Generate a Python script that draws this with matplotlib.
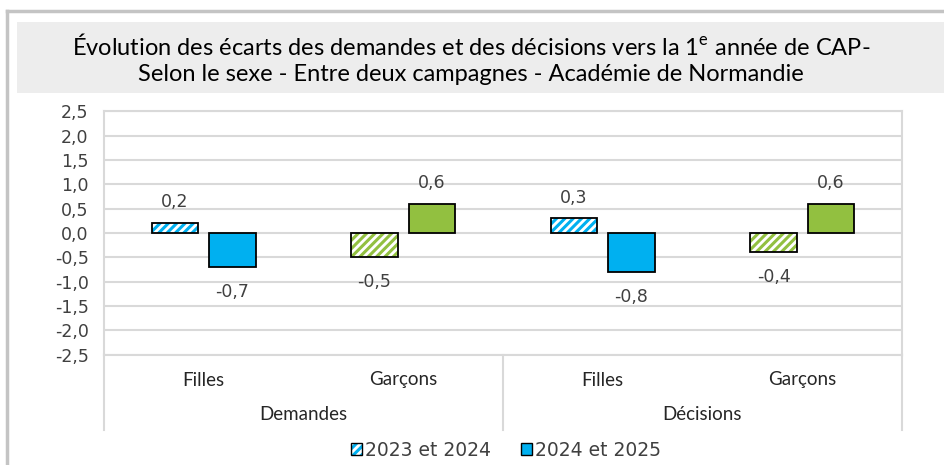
import matplotlib
matplotlib.use("Agg")
import matplotlib.pyplot as plt
from matplotlib.patches import Rectangle, Patch
from matplotlib.lines import Line2D
from matplotlib.legend_handler import HandlerTuple
import numpy as np

# data
groups = ["Demandes", "Décisions"]
sexes = ["Filles", "Garçons", "Filles", "Garçons"]
ecart_2023_2024 = [0.2, -0.5, 0.3, -0.4]
ecart_2024_2025 = [-0.7, 0.6, -0.8, 0.6]
series_names = ["2023 et 2024", "2024 et 2025"]
yticks = np.arange(-2.5, 2.51, 0.5)

BLUE = "#00b0f0"
GREEN = "#92c040"
GRID = "#d9d9d9"

plt.rcParams["hatch.linewidth"] = 2.2
plt.rcParams["mathtext.fontset"] = "custom"
plt.rcParams["mathtext.rm"] = "Lato"

W, H = 944, 465
fig = plt.figure(figsize=(W / 100, H / 100), dpi=100)

# outer frame + title box
fig.add_artist(Line2D([7 / W, 7 / W], [0, 1 - 11 / H], color="#c4c4c4", lw=2.5))
fig.add_artist(Line2D([7 / W, 1], [1 - 11 / H, 1 - 11 / H], color="#c4c4c4", lw=2.5))
fig.add_artist(Rectangle((17 / W, 1 - 93 / H), 1, 71 / H, color="#ededed", lw=0))
fig.text(471 / W, 1 - 59 / H,
         "Évolution des écarts des demandes et des décisions vers la 1$^{\\mathrm{e}}$ année de CAP-\n"
         "Selon le sexe - Entre deux campagnes - Académie de Normandie",
         ha="center", va="center", fontsize=17, family="Lato", linespacing=1.25)

left, right, top, bottom = 104, 902, 111.5, 354.5
ax = fig.add_axes([left / W, 1 - bottom / H, (right - left) / W, (bottom - top) / H])

x = np.arange(len(sexes))
bw = 0.233
off = 0.144
colors = [BLUE, GREEN, BLUE, GREEN]

for xi, v, c in zip(x, ecart_2023_2024, colors):
    ax.bar(xi - off, v, bw, facecolor="white", edgecolor=c, hatch="////", lw=0, zorder=2)
    ax.bar(xi - off, v, bw, facecolor="none", edgecolor="black", lw=1.3, zorder=3)
for xi, v, c in zip(x, ecart_2024_2025, colors):
    ax.bar(xi + off, v, bw, facecolor=c, edgecolor="black", lw=1.3, zorder=3)

for xs, vals in ((x - off, ecart_2023_2024), (x + off, ecart_2024_2025)):
    for xi, v in zip(xs, vals):
        ax.annotate(f"{v:.1f}".replace(".", ","), (xi, v),
                    xytext=(0, 15 if v > 0 else -18), textcoords="offset points",
                    ha="center", va="center", fontsize=12.5, color="#404040")

ax.set_xlim(-0.5, len(sexes) - 0.5)
ax.set_ylim(-2.5, 2.5)
ax.set_yticks(yticks)
ax.set_yticklabels([f"{t:.1f}".replace(".", ",") for t in yticks], fontsize=12.5, color="#404040")
ax.tick_params(axis="y", length=0, pad=11)
ax.set_xticks([])
ax.grid(axis="y", color=GRID, lw=1.5, zorder=0)
ax.set_axisbelow(True)
for s in ax.spines.values():
    s.set_color(GRID)
    s.set_linewidth(1.5)

# multi-level category axis
trans = ax.get_xaxis_transform()
ext = -(430 - bottom) / (bottom - top)
for xv in (-0.5, 1.5, 3.5):
    ax.add_line(Line2D([xv, xv], [0, ext], transform=trans, color=GRID, lw=1.5, clip_on=False))
for xi, s in zip(x, sexes):
    ax.text(xi, -(380 - bottom) / (bottom - top), s, transform=trans, ha="center", va="center",
            fontsize=13.5, family="Lato", color="#262626")
for gi, g in enumerate(groups):
    ax.text(0.5 + 2 * gi, -(414 - bottom) / (bottom - top), g, transform=trans, ha="center",
            va="center", fontsize=13.5, family="Lato", color="#262626")

handles = [(Patch(facecolor="white", edgecolor=BLUE, hatch="////", lw=0),
            Patch(facecolor="none", edgecolor="black", lw=1)),
           Patch(facecolor=BLUE, edgecolor="black", lw=1)]
fig.legend(handles, series_names, loc="center", bbox_to_anchor=(506 / W, 1 - 450 / H), ncol=2,
           frameon=False, fontsize=13.5, handlelength=0.6, handleheight=0.6, handletextpad=0.15,
           columnspacing=1.6, labelcolor="#404040", handler_map={tuple: HandlerTuple(ndivide=1)})

fig.savefig("out.png", dpi=100)
